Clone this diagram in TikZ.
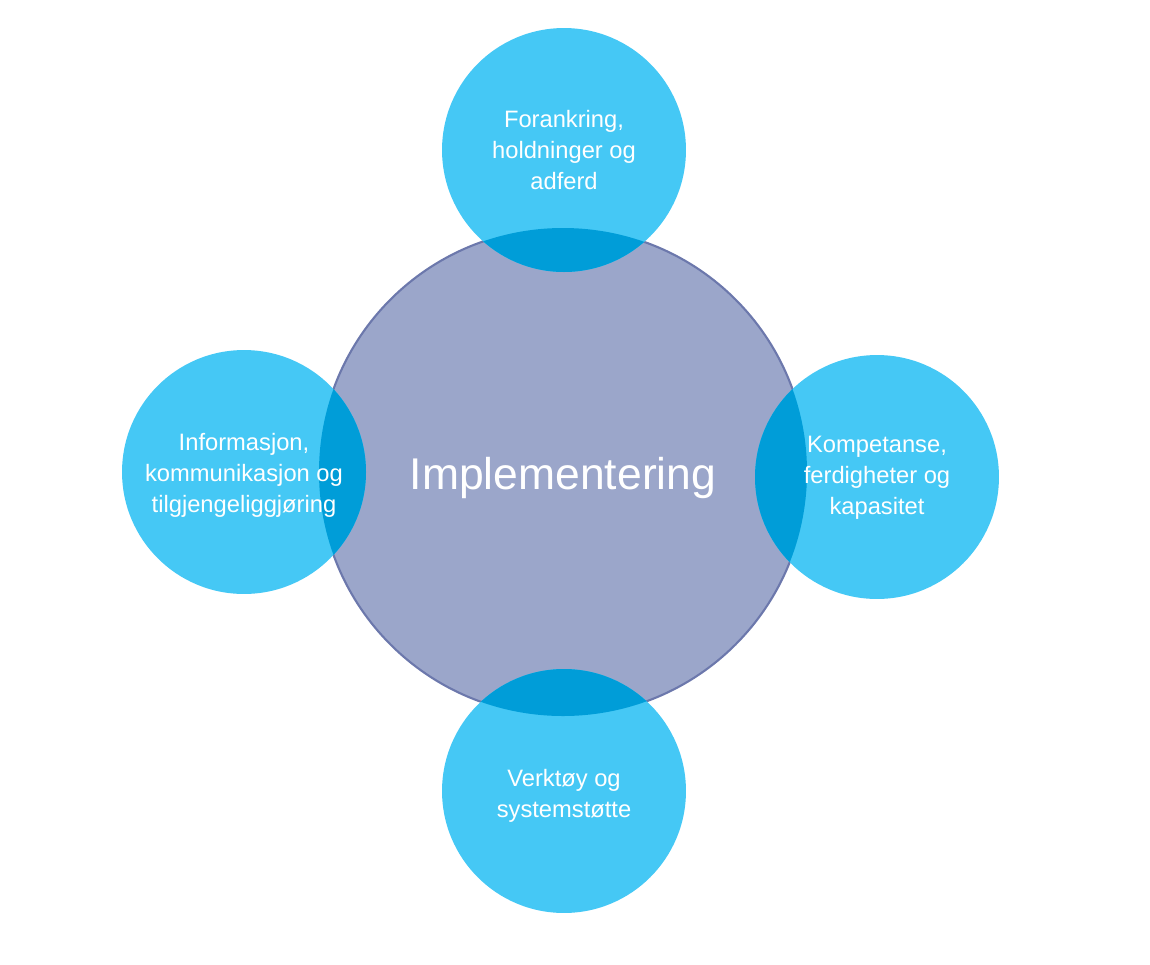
\documentclass[tikz,border=0pt]{standalone}
\usepackage{fontspec}
\setmainfont{Liberation Sans}
\usepackage{tikz}
\usetikzlibrary{positioning}
\definecolor{HubFill}{RGB}{155,166,202}
\definecolor{HubLine}{RGB}{108,120,172}
\definecolor{SatFill}{RGB}{69,200,245}
\definecolor{SatOverlap}{RGB}{0,157,216}
\tikzset{
  hub/.style={circle, fill=HubFill, draw=HubLine, line width=1.2pt, minimum size=9.76cm, inner sep=0pt, text=white},
  sat/.style={circle, fill=SatFill, minimum size=4.88cm, inner sep=0pt},
  satlabel/.style={align=center, text=white, font=\fontsize{13.5}{17.6}\selectfont},
}

\begin{document}
\begin{tikzpicture}[x=0.02cm, y=-0.02cm]
      \useasboundingbox (0,0) rectangle (1150,964);
      \node[hub] (hub) at (563,472) {};
      \node[font=\fontsize{25.3}{30}\selectfont, text=white] (hubl) at ([yshift=-0.12cm]hub.center) {Implementering};
      % satellites
      \foreach \n/\x/\y in {top/564/150, left/244/472, right/877/477, bottom/564/791} {
        \node[sat] (\n) at (\x,\y) {};
      }
      % overlap with the hub
      \begin{scope}
        \clip (563,472) circle (244);
        \foreach \x/\y in {564/150, 244/472, 877/477, 564/791} {
          \fill[SatOverlap] (\x,\y) circle (122);
        }
      \end{scope}
      \node[satlabel] (topl) at (top.center) {Forankring,\\holdninger og\\adferd};
      \node[satlabel] (leftl) at ([yshift=-0.06cm]left.center) {Informasjon,\\kommunikasjon og\\tilgjengeliggjøring};
      \node[satlabel] (rightl) at ([yshift=-0.02cm]right.center) {Kompetanse,\\ferdigheter og\\kapasitet};
      \node[satlabel] (bottoml) at ([yshift=-0.1cm]bottom.center) {Verktøy og\\systemstøtte};
    \end{tikzpicture}
\end{document}
